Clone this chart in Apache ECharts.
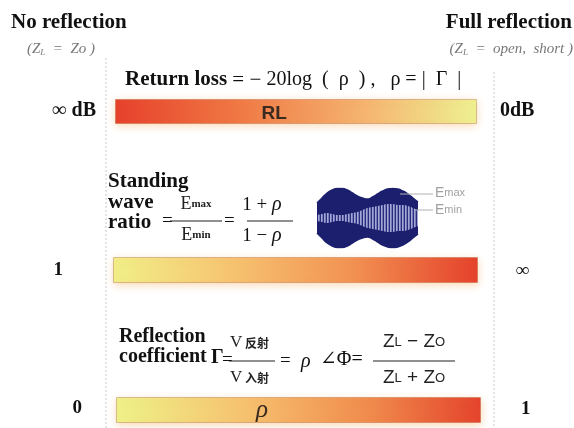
<!DOCTYPE html>
<html><head><meta charset="utf-8">
<script src="https://cdn.jsdelivr.net/npm/echarts@6/dist/echarts.min.js"></script>
<style>html,body{margin:0;padding:0;background:#fff}#c{width:574px;height:428px}</style>
</head><body><div id="c"></div>
<script>
// ---- data ----
const barNames = ['RL', 'SWR', 'ρ'];
const barSpan = [1, 1, 1];
const barLabels = ['RL', '', 'ρ'];
const leftEnds = ['∞ dB', '1', '0'];
const rightEnds = ['0dB', '∞', '1'];
const waveX = [0,5,10,15,20,25,30,35,40,45,50,55,60,65,70,75,80,85,90,95,100];
const waveUpper = [15,20,25,28,29.5,29.5,28,25,22,20,19,21,24,27,29,29.5,29,27,24,20,16];
const waveLower = [-15,-20,-25,-28,-29.5,-29.5,-28,-25,-22,-20,-19,-21,-24,-27,-29,-29.5,-29,-27,-24,-20,-16];
const innerUpper = [3,4,5,4,3,3,4,5,6,8,10,11,12,13,14,14,13,13,12,10,8];
const innerLower = [-3,-4,-5,-4,-3,-3,-4,-5,-6,-8,-10,-11,-12,-13,-14,-14,-13,-13,-12,-10,-8];

// ---- chart ----
const chart = echarts.init(document.getElementById('c'), null, {renderer: 'canvas'});
const SERIF = '"Liberation Serif","DejaVu Serif",serif';
const SANS = '"Liberation Sans","DejaVu Sans",sans-serif';
const CJK = '"Noto Sans CJK SC",sans-serif';

const barGrids = [
  {left: 115, top: 99, width: 362, height: 25},
  {left: 113, top: 257, width: 365, height: 26},
  {left: 116, top: 397, width: 365, height: 26}
];
const gradients = [
  [[0,'#e6402b'],[0.35,'#f07a45'],[0.7,'#f5b672'],[1,'#eef191']],
  [[0,'#f1ef88'],[0.3,'#f6c773'],[0.65,'#f29353'],[1,'#e5412b']],
  [[0,'#eef288'],[0.35,'#f6c270'],[0.7,'#f08a4c'],[1,'#e4432c']]
];
const labelPos = [['44%','58%'], ['50%','50%'], ['40%','50%']];
const labelFont = [
  {fontFamily: SANS, fontWeight: 'bold', fontSize: 19, color: '#3a2a20'},
  {},
  {fontFamily: SERIF, fontStyle: 'italic', fontSize: 25, color: '#3a2a20'}
];

// stripe texture for the inner part of the standing wave
const stripe = document.createElement('canvas');
stripe.width = 3; stripe.height = 4;
(function () {
  const g = stripe.getContext('2d');
  g.fillStyle = '#2a2e7c'; g.fillRect(0, 0, 3, 4);
  g.fillStyle = '#b4b7df'; g.fillRect(0, 0, 1, 4);
  g.fillStyle = '#7f84c2'; g.fillRect(1, 0, 1, 4);
})();

const grid = barGrids.map(g => Object.assign({containLabel: false}, g));
grid.push({left: 317, top: 188, width: 101, height: 60});

const xAxis = [], yAxis = [], series = [];
barNames.forEach((n, i) => {
  xAxis.push({type: 'value', gridIndex: i, min: 0, max: 1, show: false});
  yAxis.push({type: 'category', gridIndex: i, data: [n], show: false});
  series.push({
    type: 'bar', xAxisIndex: i, yAxisIndex: i, barWidth: '100%',
    data: [barSpan[i]], silent: true,
    itemStyle: {
      color: new echarts.graphic.LinearGradient(0, 0, 1, 0,
        gradients[i].map(s => ({offset: s[0], color: s[1]}))),
      borderColor: 'rgba(170,90,50,0.35)', borderWidth: 1,
      shadowBlur: 8, shadowColor: 'rgba(245,170,90,0.45)', shadowOffsetY: 2
    },
    label: Object.assign({
      show: !!barLabels[i], position: labelPos[i], align: 'center', verticalAlign: 'middle',
      formatter: () => barLabels[i]
    }, labelFont[i])
  });
});
// wave panel
xAxis.push({type: 'value', gridIndex: 3, min: 0, max: 100, show: false});
yAxis.push({type: 'value', gridIndex: 3, min: -30, max: 30, show: false});
const wz = (arr) => waveX.map((x, k) => [x, arr[k]]);
const waveCommon = {type: 'line', xAxisIndex: 3, yAxisIndex: 3, smooth: true, symbol: 'none', silent: true};
series.push(Object.assign({}, waveCommon, {data: wz(waveUpper), lineStyle: {color: '#1c1f6e', width: 1.5}, areaStyle: {color: '#1c1f6e', opacity: 1}}));
series.push(Object.assign({}, waveCommon, {data: wz(waveLower), lineStyle: {color: '#1c1f6e', width: 1.5}, areaStyle: {color: '#1c1f6e', opacity: 1}}));
series.push(Object.assign({}, waveCommon, {data: wz(innerUpper), lineStyle: {width: 0}, areaStyle: {color: {image: stripe, repeat: 'repeat'}, opacity: 0.9}}));
series.push(Object.assign({}, waveCommon, {data: wz(innerLower), lineStyle: {width: 0}, areaStyle: {color: {image: stripe, repeat: 'repeat'}, opacity: 0.9}}));

// ---- text / decorations ----
function T(x, y, text, font, opt) {
  return {type: 'text', x: x, y: y, silent: true, z: 100,
    style: Object.assign({text: text, font: font, fill: '#111', textAlign: 'left', textVerticalAlign: 'middle'}, opt || {})};
}
function L(x1, y1, x2, y2, stroke, w, dash) {
  return {type: 'line', silent: true, z: 90, shape: {x1, y1, x2, y2},
    style: {stroke: stroke, lineWidth: w || 1, lineDash: dash || null}};
}
const bold21 = 'bold 21px ' + SERIF;
const bold20 = 'bold 20px ' + SERIF;
const reg18 = '19px ' + SERIF;
const gray = '#777';
const subRich = {
  i: {font: 'italic 15px ' + SERIF, fill: gray},
  s: {font: 'italic 9px ' + SERIF, fill: gray, verticalAlign: 'bottom', padding: [7, 0, 0, 0]}
};
const efr = {e: {font: '18px ' + SERIF, fill: '#222'}, m: {font: 'bold 11px ' + SERIF, fill: '#222'}};
const zfr = {z: {font: '19px ' + SANS, fill: '#222'}, l: {font: '13px ' + SANS, fill: '#222'}, o: {font: '13px ' + SANS, fill: '#222'}};
const vfr = {v: {font: '17px ' + SERIF, fill: '#222'}, c: {font: 'bold 12px ' + CJK, fill: '#222'}};
const graphic = [
  L(106, 58, 106, 428, '#c9c9c9', 1, [2, 2]),
  L(494, 72, 494, 428, '#c9c9c9', 1, [2, 2]),
  T(11, 23, 'No reflection', bold21),
  T(572, 23, 'Full reflection', bold21, {textAlign: 'right'}),
  T(27, 49, '{i|(Z}{s|L}{i|  =  Zo )}', '', {rich: subRich}),
  T(573, 49, '{i|(Z}{s|L}{i|  =  open,  short )}', '', {rich: subRich, textAlign: 'right'}),
  T(125, 80, '{b|Return loss}{r| = − }{c|20log  (  ρ  ) ,   ρ = |  Γ  |}', '', {rich: {
    b: {font: 'bold 21px ' + SERIF, fill: '#111'},
    r: {font: '21px ' + SERIF, fill: '#111'},
    c: {font: '20px ' + SERIF, fill: '#111'}
  }}),
  T(96, 111, leftEnds[0], 'bold 20px ' + SERIF, {textAlign: 'right'}),
  T(500, 111, rightEnds[0], 'bold 20px ' + SERIF),
  // SWR
  T(108, 182, 'Standing', bold21),
  T(108, 203, 'wave', bold21),
  T(108, 223, 'ratio', bold21),
  T(162, 221, '=', reg18),
  T(196, 204, '{e|E}{m|max}', '', {textAlign: 'center', rich: efr}),
  L(170, 221, 222, 221, '#222', 1.2),
  T(196, 235, '{e|E}{m|min}', '', {textAlign: 'center', rich: efr}),
  T(224, 221, '=', reg18),
  T(272, 205, '1 + ', reg18, {textAlign: 'right'}),
  T(272, 205, 'ρ', 'italic 20px ' + SERIF),
  L(247, 221, 293, 221, '#222', 1.2),
  T(272, 236, '1 − ', reg18, {textAlign: 'right'}),
  T(272, 236, 'ρ', 'italic 20px ' + SERIF),
  L(400, 194, 433, 194, '#b0b0b0', 1),
  L(415, 210, 433, 210, '#b0b0b0', 1),
  T(435, 193, '{e|E}{m|max}', '', {rich: {e: {font: '14px ' + SANS, fill: '#a0a0a0'}, m: {font: '11px ' + SANS, fill: '#a0a0a0'}}}),
  T(435, 210, '{e|E}{m|min}', '', {rich: {e: {font: '14px ' + SANS, fill: '#a0a0a0'}, m: {font: '11px ' + SANS, fill: '#a0a0a0'}}}),
  T(63, 270, leftEnds[1], 'bold 19px ' + SERIF, {textAlign: 'right'}),
  T(516, 271, rightEnds[1], 'bold 19px ' + SERIF),
  // Reflection coefficient
  T(119, 337, 'Reflection', bold20),
  T(119, 357, 'coefficient', bold20),
  T(211, 358, 'Γ', bold20),
  T(222, 360, '=', reg18),
  T(230, 343, '{v|V}{c| 反射}', '', {rich: vfr}),
  L(229, 361, 275, 361, '#222', 1.2),
  T(230, 378, '{v|V}{c| 入射}', '', {rich: vfr}),
  T(280, 361, '=', reg18),
  T(301, 362, 'ρ', 'italic 20px ' + SERIF),
  T(320, 360, '∠Φ=', '20px ' + SERIF),
  T(414, 342, '{z|Z}{l|L}{z| − Z}{o|O}', '', {textAlign: 'center', rich: zfr}),
  L(373, 361, 455, 361, '#222', 1.2),
  T(414, 378, '{z|Z}{l|L}{z| + Z}{o|O}', '', {textAlign: 'center', rich: zfr}),
  T(82, 408, leftEnds[2], 'bold 19px ' + SERIF, {textAlign: 'right'}),
  T(521, 409, rightEnds[2], 'bold 19px ' + SERIF)
];

chart.setOption({
  backgroundColor: '#ffffff',
  animation: false,
  grid: grid, xAxis: xAxis, yAxis: yAxis, series: series,
  graphic: graphic
});
</script>
</body></html>
